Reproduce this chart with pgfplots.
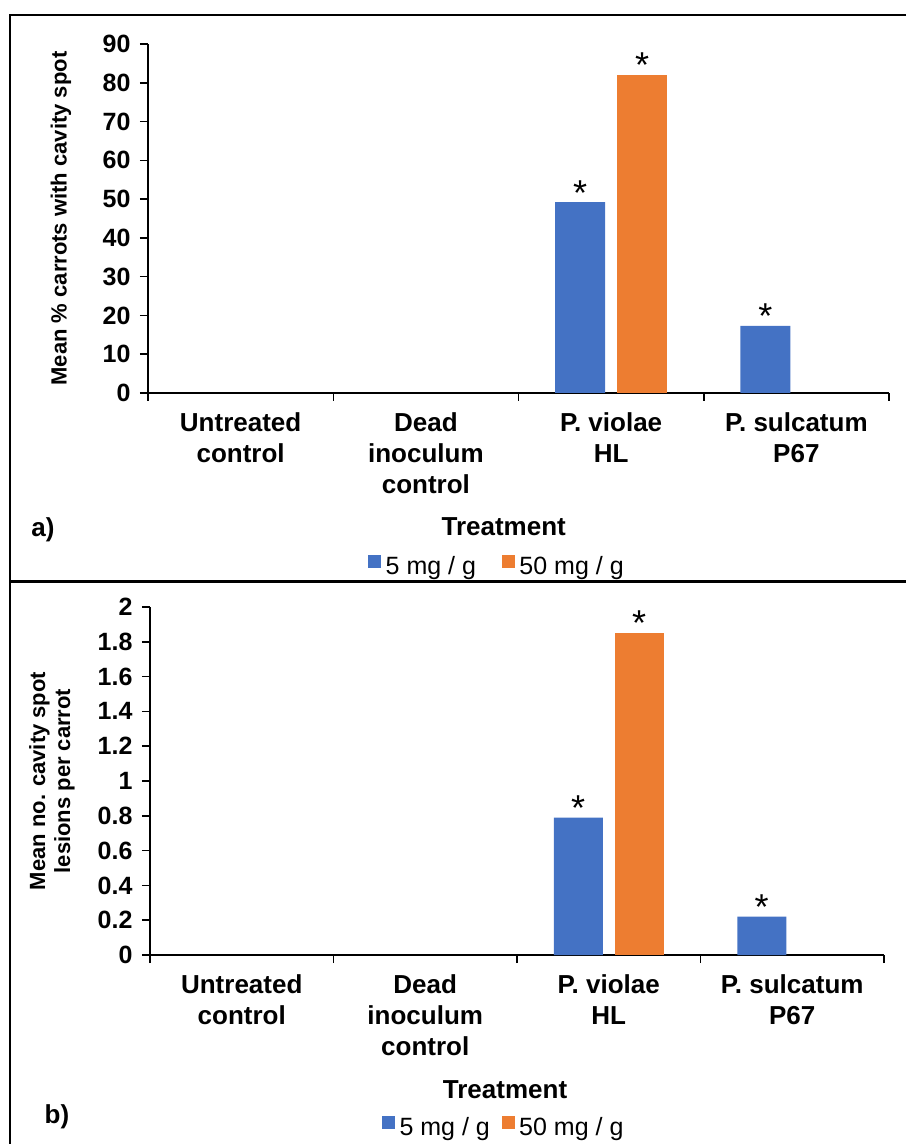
\documentclass[border=0pt]{standalone}
\usepackage{fontspec}
\setmainfont{Liberation Sans}
\usepackage{pgfplots}
\pgfplotsset{compat=1.18}
\definecolor{cblue}{HTML}{4472C4}
\definecolor{corange}{HTML}{ED7D31}
\pgfplotsset{
  mystyle/.style={
    scale only axis,
    clip=false,
    axis x line*=bottom, axis y line*=left,
    axis line style={line width=1.5pt, black},
    xmin=-0.5, xmax=3.5,
    xtick={0,1,2,3},
    xticklabels={{Untreated\\control},{Dead\\inoculum\\control},{P. violae\\HL},{P. sulcatum\\P67}},
    minor xtick={-0.5,0.5,1.5,2.5,3.5},
    tick align=outside,
    major tick length=8pt, minor tick length=8pt,
    every tick/.append style={line width=1.5pt, black},
    every major x tick/.append style={draw=none},
    /pgf/number format/assume math mode=true,
    yticklabel style={font=\bfseries\fontsize{25}{30}\selectfont, xshift=-6pt},
    xticklabel style={font=\bfseries\fontsize{26}{31}\selectfont, align=center, anchor=north, yshift=-8pt},
    every node near coord/.append style={font=\fontsize{36}{40}\selectfont, anchor=south, inner sep=0pt, yshift=-3pt},
    legend style={draw=none, font=\fontsize{25}{30}\selectfont, legend columns=2, inner sep=0pt},
  }
}
\begin{document}
\begin{tikzpicture}[x=1pt,y=1pt]
\path[use as bounding box] (0,0) rectangle (906,1144);
\draw[line width=2pt] (906,1129) -- (10,1129) -- (10,0);
\draw[line width=3pt] (10,562) -- (906,562);
\node[font=\bfseries\fontsize{26}{31}\selectfont] at (43,614) {a)};
\node[font=\bfseries\fontsize{26}{31}\selectfont] at (57,27) {b)};

\begin{axis}[mystyle, at={(148pt,751pt)}, anchor=south west,
  width=741pt, height=349pt, ymin=0, ymax=90, ytick={0,10,20,30,40,50,60,70,80,90},
  ylabel={Mean \% carrots with cavity spot},
  every axis y label/.style={at={(rel axis cs:-0.1174,0.5)}, rotate=90, anchor=center, font=\bfseries\fontsize{22}{25}\selectfont},
  xlabel={Treatment},
  every axis x label/.style={at={(rel axis cs:0.48,-0.384)}, anchor=center, font=\bfseries\fontsize{26}{31}\selectfont},
  legend style={at={(rel axis cs:0.471,-0.496)}, anchor=center, /tikz/every even column/.append style={column sep=24pt}},
]
\addplot[ybar, bar width=50pt, bar shift=-31pt, fill=cblue, draw=none, nodes near coords={*}, nodes near coords style={xshift=-31pt}, forget plot] coordinates {(2,49.2) (3,17.3)};
\addplot[ybar, bar width=50pt, bar shift=31pt, fill=corange, draw=none, nodes near coords={*}, nodes near coords style={xshift=31pt}, forget plot] coordinates {(2,82)};
\addlegendimage{legend image code/.code={\fill[cblue] (0pt,-1pt) rectangle (12pt,11pt);}}
\addlegendentry{\hspace{3pt}5 mg / g}
\addlegendimage{legend image code/.code={\fill[corange] (0pt,-1pt) rectangle (12pt,11pt);}}
\addlegendentry{\hspace{3pt}50 mg / g}
\end{axis}

\begin{axis}[mystyle, at={(150pt,189pt)}, anchor=south west,
  width=734pt, height=348pt, ymin=0, ymax=2, ytick={0,0.2,0.4,0.6,0.8,1,1.2,1.4,1.6,1.8,2},
  ylabel={Mean no. cavity spot\\lesions per carrot},
  every axis y label/.style={at={(rel axis cs:-0.1335,0.5)}, rotate=90, anchor=center, align=center, font=\bfseries\fontsize{22}{25}\selectfont},
  xlabel={Treatment},
  every axis x label/.style={at={(rel axis cs:0.4837,-0.388)}, anchor=center, font=\bfseries\fontsize{26}{31}\selectfont},
  legend style={at={(rel axis cs:0.482,-0.494)}, anchor=center, /tikz/every even column/.append style={column sep=10pt}},
]
\addplot[ybar, bar width=49pt, bar shift=-30.5pt, fill=cblue, draw=none, nodes near coords={*}, nodes near coords style={xshift=-30.5pt}, forget plot] coordinates {(2,0.79) (3,0.22)};
\addplot[ybar, bar width=49pt, bar shift=30.5pt, fill=corange, draw=none, nodes near coords={*}, nodes near coords style={xshift=30.5pt}, forget plot] coordinates {(2,1.85)};
\addlegendimage{legend image code/.code={\fill[cblue] (0pt,-1pt) rectangle (12pt,11pt);}}
\addlegendentry{\hspace{3pt}5 mg / g}
\addlegendimage{legend image code/.code={\fill[corange] (0pt,-1pt) rectangle (12pt,11pt);}}
\addlegendentry{\hspace{3pt}50 mg / g}
\end{axis}
\end{tikzpicture}
\end{document}
